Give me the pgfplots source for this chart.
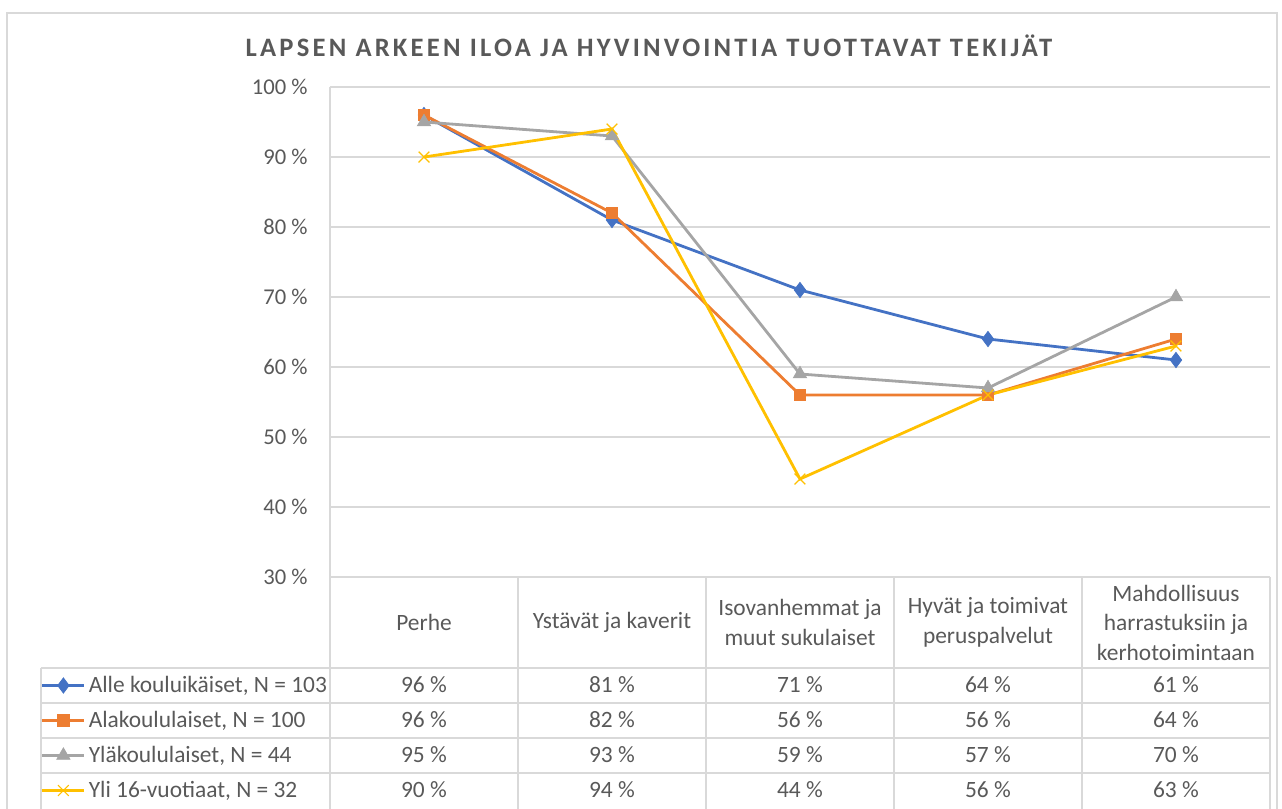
\documentclass[border=0pt]{standalone}
\usepackage{fontspec}
\setmainfont{Carlito}
\newfontfamily\titlefont[LetterSpace=12]{Carlito}
\usepackage{pgfplots}
\pgfplotsset{compat=1.18}
\definecolor{cBlue}{HTML}{4472C4}
\definecolor{cOrange}{HTML}{ED7D31}
\definecolor{cGrey}{HTML}{A5A5A5}
\definecolor{cYellow}{HTML}{FFC000}
\definecolor{txt}{HTML}{595959}
\definecolor{gridc}{HTML}{D9D9D9}
\newcommand{\tfont}{\fontsize{11.7}{13.5}\selectfont}
\begin{document}
\begin{tikzpicture}
\path[use as bounding box] (-165pt,-116pt) rectangle (476pt,288.5pt);
% outer chart border
\draw[gridc, line width=0.6pt] (-161.5pt,-120pt) -- (-161.5pt,282pt) -- (473.5pt,282pt) -- (473.5pt,-120pt);
\begin{axis}[
  scale only axis, width=470pt, height=245pt,
  at={(0pt,0pt)}, anchor=south west,
  xmin=-0.5, xmax=4.5, ymin=30, ymax=100,
  ytick={30,40,...,100},
  yticklabels={30 \%, 40 \%, 50 \%, 60 \%, 70 \%, 80 \%, 90 \%, 100 \%},
  xtick={0,...,4},
  xticklabels={Perhe, Ystävät ja kaverit, Isovanhemmat ja\\muut sukulaiset, Hyvät ja toimivat\\peruspalvelut, Mahdollisuus\\harrastuksiin ja\\kerhotoimintaan},
  major tick length=0pt,
  axis x line*=bottom, axis y line*=left,
  axis line style={draw=gridc, line width=0.6pt, -},
  ymajorgrids, grid style={draw=gridc, line width=0.6pt},
  yticklabel style={font=\fontsize{11.3}{13}\selectfont, text=txt, inner sep=0pt, anchor=east, xshift=-11pt},
  xticklabel style={font=\fontsize{11.7}{14.75}\selectfont, text=txt, align=center, anchor=center, inner sep=0pt, yshift=-22.75pt},
  legend cell align=left,
  legend style={at={(axis description cs:-0.30745,-0.18571)}, anchor=north west, draw=none, fill=none,
    inner sep=0pt, outer sep=0pt, row sep=0pt, column sep=0pt,
    font=\tfont, text=txt,
    nodes={inner sep=0pt, text height=12.4pt, text depth=5.1pt}},
  legend image code/.code={\draw[mark repeat=2, mark phase=2] plot coordinates {(0pt,0pt) (10.5pt,0pt) (21pt,0pt)}; \path (22.5pt,0pt);},
  clip=false,
]
\addplot[cBlue, line width=1.4pt, mark=diamond*, mark size=3.8pt, mark options={solid, line width=0.4pt}] coordinates {(0,96) (1,81) (2,71) (3,64) (4,61)};
\addlegendentry{Alle kouluikäiset, N = 103}
\addplot[cOrange, line width=1.4pt, mark=square*, mark size=2.9pt, mark options={solid, line width=0.4pt}] coordinates {(0,96) (1,82) (2,56) (3,56) (4,64)};
\addlegendentry{Alakoululaiset, N = 100}
\addplot[cGrey, line width=1.4pt, mark=triangle*, mark size=3.8pt, mark options={solid, line width=0.4pt}] coordinates {(0,95) (1,93) (2,59) (3,57) (4,70)};
\addlegendentry{Yläkoululaiset, N = 44}
\addplot[cYellow, line width=1.4pt, mark=x, mark size=3.8pt, mark options={solid, line width=0.6pt}] coordinates {(0,90) (1,94) (2,44) (3,56) (4,63)};
\addlegendentry{Yli 16-vuotiaat, N = 32}
\end{axis}
% data table grid
\draw[gridc, line width=0.6pt]
  (-144.5pt,-45.5pt) -- (470pt,-45.5pt)
  (-144.5pt,-63pt) -- (470pt,-63pt)
  (-144.5pt,-80.5pt) -- (470pt,-80.5pt)
  (-144.5pt,-98pt) -- (470pt,-98pt)
  (-144.5pt,-45.5pt) -- (-144.5pt,-120pt);
\foreach \c in {0,1,2,3,4,5} {\draw[gridc, line width=0.6pt] ({94pt*\c},0pt) -- ({94pt*\c},-120pt);}
% data table values
\foreach \vals [count=\r from 0] in {{96,81,71,64,61},{96,82,56,56,64},{95,93,59,57,70},{90,94,44,56,63}}{
  \foreach \v [count=\c from 0] in \vals {
    \node[font=\tfont, text=txt, inner sep=0pt, text height=12.4pt, text depth=5.1pt] at ({47pt+94pt*\c},{-54.25pt-17.5pt*\r}) {\v~\%};
  }
}
% title
\node[font=\titlefont\bfseries\fontsize{13.3}{16}\selectfont, text=txt] at (159.5pt,265.5pt) {LAPSEN ARKEEN ILOA JA HYVINVOINTIA TUOTTAVAT TEKIJÄT};
\end{tikzpicture}
\end{document}
